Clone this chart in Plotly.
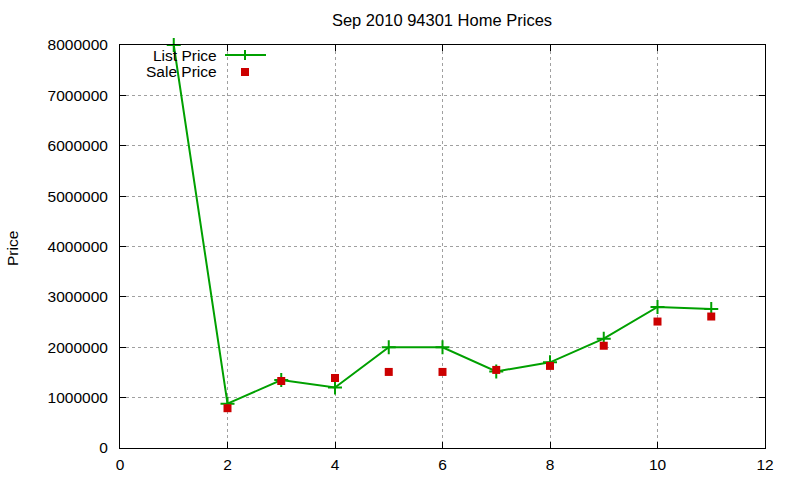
import plotly.graph_objects as go

months = [1, 2, 3, 4, 5, 6, 7, 8, 9, 10, 11]
list_price = [8000000, 880000, 1350000, 1200000, 2000000, 2000000, 1520000, 1700000, 2170000, 2800000, 2760000]
sale_months = [2, 3, 4, 5, 6, 7, 8, 9, 10, 11]
sale_price = [790000, 1330000, 1390000, 1510000, 1510000, 1550000, 1630000, 2030000, 2510000, 2610000]

GREEN = "#00a000"
RED = "#cc0000"
FONT = "Liberation Sans, Arial, sans-serif"

fig = go.Figure()
fig.add_trace(go.Scatter(x=months, y=list_price, mode="lines+markers", name="List Price", cliponaxis=False,
                         line=dict(color=GREEN, width=2),
                         marker=dict(symbol="cross-thin", size=10, line=dict(color=GREEN, width=2), color=GREEN)))
fig.add_trace(go.Scatter(x=sale_months, y=sale_price, mode="markers", name="Sale Price", cliponaxis=False,
                         marker=dict(symbol="square", size=8, color=RED, line=dict(width=0))))

L, R, T, B = 120, 35, 45, 32
W, H = 800, 480
pw, ph = W - L - R, H - T - B

def px(x):
    return (x - L) / pw

def py(y):
    return (H - B - y) / ph

shapes = []
# legend samples
shapes.append(dict(type="line", xref="paper", yref="paper", x0=px(225), x1=px(266), y0=py(55), y1=py(55),
                   line=dict(color=GREEN, width=2)))
shapes.append(dict(type="line", xref="paper", yref="paper", x0=px(245), x1=px(245), y0=py(50), y1=py(60),
                   line=dict(color=GREEN, width=2)))
shapes.append(dict(type="rect", xref="paper", yref="paper", x0=px(241), x1=px(249), y0=py(68), y1=py(76),
                   fillcolor=RED, line=dict(width=0)))

annotations = [
    dict(text="List Price", xref="paper", yref="paper", x=px(219), y=py(55), xanchor="right", yanchor="middle",
         showarrow=False, font=dict(size=15.5, color="black", family=FONT)),
    dict(text="Sale Price", xref="paper", yref="paper", x=px(219), y=py(71), xanchor="right", yanchor="middle",
         showarrow=False, font=dict(size=15.5, color="black", family=FONT)),
    dict(text="Price", xref="paper", yref="paper", x=px(12), y=py(249), xanchor="center", yanchor="middle",
         textangle=-90, showarrow=False, font=dict(size=15.5, color="black", family=FONT)),
]

axis_common = dict(showline=True, linecolor="black", linewidth=1, mirror="ticks", ticks="inside",
                   ticklen=6, tickcolor="black", showgrid=True, gridcolor="#a0a0a0", griddash="dot",
                   gridwidth=1, zeroline=False, automargin=False,
                   tickfont=dict(size=15.5, color="black", family=FONT))

fig.update_layout(
    width=W, height=H, margin=dict(l=L, r=R, t=T, b=B),
    paper_bgcolor="white", plot_bgcolor="white", showlegend=False,
    title=dict(text="Sep 2010 94301 Home Prices", x=442 / W, xanchor="center",
               y=1 - 20 / H, yanchor="middle", font=dict(size=16.5, color="black", family=FONT)),
    xaxis=dict(range=[0, 12], dtick=2, tick0=0, ticklabelstandoff=2, **axis_common),
    yaxis=dict(range=[0, 8000000], dtick=1000000, tick0=0, tickformat="d", ticklabelstandoff=8, **axis_common),
    shapes=shapes, annotations=annotations,
)

fig.write_html("out.html")
